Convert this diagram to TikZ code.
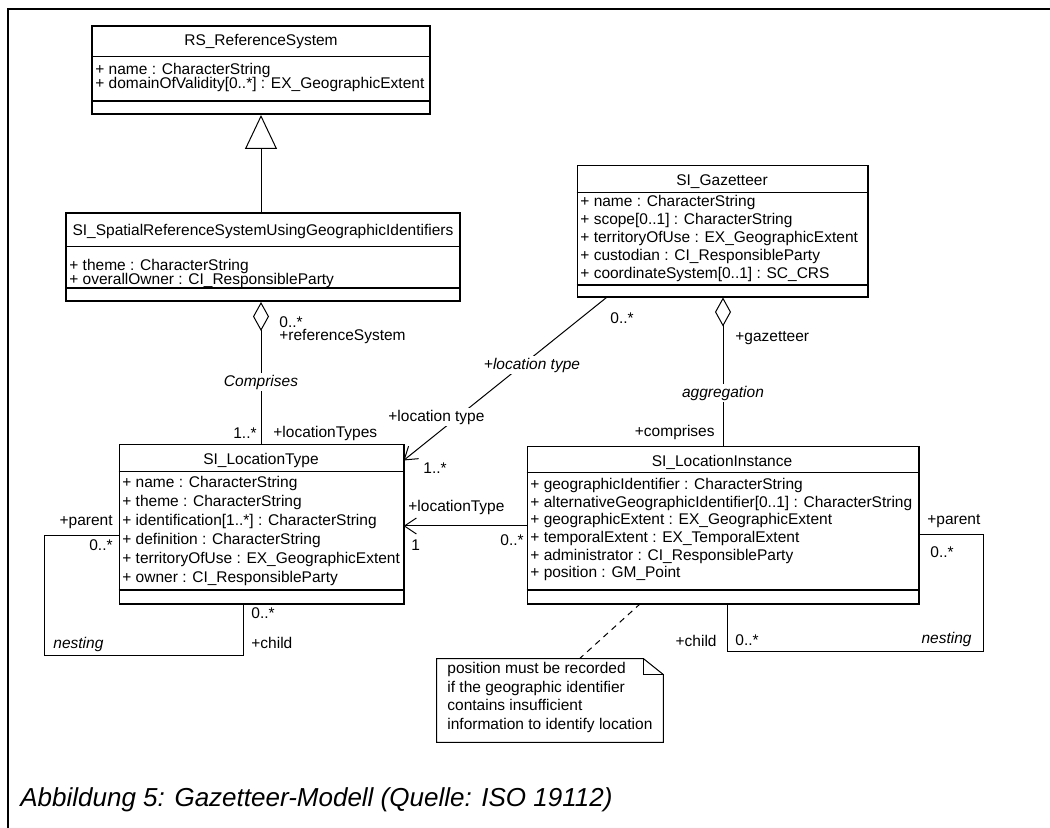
\documentclass[tikz,border=0pt]{standalone}
\usepackage{fontspec}
\setmainfont{Liberation Sans}
\usetikzlibrary{arrows.meta,fit,calc}

\tikzset{
  every node/.style={font=\fontsize{7.75}{9}\selectfont, inner sep=0pt},
  cls/.style={draw, line width=0.5pt, fill=white, inner sep=0pt},
  clsbold/.style={draw, line width=1pt, fill=white, inner sep=0pt},
  edge/.style={line width=1pt},
  title/.style={anchor=center},
  attr/.style={anchor=west},
  thinsep/.style={line width=0.5pt},
  thicksep/.style={line width=1pt},
  conn/.style={line width=0.5pt},
  lbl/.style={inner sep=0pt},
  wlbl/.style={fill=white, inner sep=1pt},
  itl/.style={font=\fontsize{7.75}{9}\selectfont\itshape, inner sep=0pt},
  ilbl/.style={itl, fill=white, inner sep=1pt},
  gen/.style={conn, -{Triangle[open, width=16pt, length=17pt]}},
  agg/.style={conn, {Diamond[open, width=8pt, length=14.5pt]}-},
  nav/.style={conn, -{Straight Barb[length=6pt, width=8pt]}},
  notelink/.style={conn, dash pattern=on 3pt off 2.5pt},
  notebox/.style={inner sep=0pt},
  notetext/.style={anchor=north west, align=left, font=\fontsize{7.75}{9.3}\selectfont},
  frame/.style={line width=1.2pt},
  caption/.style={anchor=west, font=\fontsize{13}{16}\selectfont\itshape},
}

\begin{document}
\begin{tikzpicture}[x=0.5pt, y=-0.5pt]
\useasboundingbox (0,0) rectangle (1050,828);

% page frame
\draw[frame] (1050,9) -- (8,9) -- (8,828);

% ---------- RS_ReferenceSystem ----------
\node[clsbold, fit={(92,26) (430,114)}] (rs) {};
\node[title] (rs-t) at (261,42) {RS\_ReferenceSystem};
\draw[thinsep] (rs.west |- 0,57) -- (rs.east |- 0,57);
\node[attr] (rs-a1) at (95,70) {+ name : CharacterString};
\node[attr] (rs-a2) at (95,84) {+ domainOfValidity[0..*] : EX\_GeographicExtent};
\draw[thicksep] (rs.west |- 0,101) -- (rs.east |- 0,101);

% ---------- SI_SpatialReferenceSystemUsingGeographicIdentifiers ----------
\node[clsbold, fit={(66,213) (460,301)}] (sp) {};
\node[title] (sp-t) at (263,231) {SI\_SpatialReferenceSystemUsingGeographicIdentifiers};
\draw[thinsep] (sp.west |- 0,247) -- (sp.east |- 0,247);
\node[attr] (sp-a1) at (69,266) {+ theme : CharacterString};
\node[attr] (sp-a2) at (69,280) {+ overallOwner : CI\_ResponsibleParty};
\draw[thicksep] (sp.west |- 0,288) -- (sp.east |- 0,288);

% ---------- SI_Gazetteer ----------
\node[cls, fit={(577,166) (867,297)}] (gz) {};
\draw[edge] (gz.north east) -- (gz.south east) -- (gz.south west);
\node[title] (gz-t) at (722,182) {SI\_Gazetteer};
\draw[thinsep] (gz.west |- 0,193) -- (gz.east |- 0,193);
\node[attr] (gz-a1) at (580,202) {+ name : CharacterString};
\node[attr] (gz-a2) at (580,220) {+ scope[0..1] : CharacterString};
\node[attr] (gz-a3) at (580,238) {+ territoryOfUse : EX\_GeographicExtent};
\node[attr] (gz-a4) at (580,256) {+ custodian : CI\_ResponsibleParty};
\node[attr] (gz-a5) at (580,274) {+ coordinateSystem[0..1] : SC\_CRS};
\draw[thicksep] (gz.west |- 0,285) -- (gz.east |- 0,285);

% ---------- SI_LocationType ----------
\node[cls, fit={(119,445) (403,603)}] (lt) {};
\draw[edge] (lt.north east) -- (lt.south east) -- (lt.south west);
\node[title] (lt-t) at (261,460) {SI\_LocationType};
\draw[thinsep] (lt.west |- 0,472) -- (lt.east |- 0,472);
\node[attr] (lt-a1) at (122,483) {+ name : CharacterString};
\node[attr] (lt-a2) at (122,502) {+ theme : CharacterString};
\node[attr] (lt-a3) at (122,521) {+ identification[1..*] : CharacterString};
\node[attr] (lt-a4) at (122,540) {+ definition : CharacterString};
\node[attr] (lt-a5) at (122,559) {+ territoryOfUse : EX\_GeographicExtent};
\node[attr] (lt-a6) at (122,578) {+ owner : CI\_ResponsibleParty};
\draw[thicksep] (lt.west |- 0,590) -- (lt.east |- 0,590);

% ---------- SI_LocationInstance ----------
\node[cls, fit={(527,447) (918,603)}] (li) {};
\draw[edge] (li.north east) -- (li.south east) -- (li.south west);
\node[title] (li-t) at (722,462) {SI\_LocationInstance};
\draw[thinsep] (li.west |- 0,473) -- (li.east |- 0,473);
\node[attr] (li-a1) at (530,485) {+ geographicIdentifier : CharacterString};
\node[attr] (li-a2) at (530,503) {+ alternativeGeographicIdentifier[0..1] : CharacterString};
\node[attr] (li-a3) at (530,520) {+ geographicExtent : EX\_GeographicExtent};
\node[attr] (li-a4) at (530,538) {+ temporalExtent : EX\_TemporalExtent};
\node[attr] (li-a5) at (530,556) {+ administrator : CI\_ResponsibleParty};
\node[attr] (li-a6) at (530,573) {+ position : GM\_Point};
\draw[thicksep] (li.west |- 0,590) -- (li.east |- 0,590);

% ---------- note ----------
\node[notebox, fit={(437,659) (663,742)}] (note) {};
\draw[conn, fill=white] (note.north west) -- ([xshift=-10pt]note.north east)
  -- ([yshift=-8pt]note.north east) -- (note.south east) -- (note.south west) -- cycle;
\draw[conn] ([xshift=-10pt]note.north east) -- ([xshift=-10pt,yshift=-8pt]note.north east)
  -- ([yshift=-8pt]note.north east);
\node[notetext] (note-t) at (447,662) {position must be recorded\\
if the geographic identifier\\
contains insufficient\\
information to identify location};

% ---------- connectors ----------
% generalization
\draw[gen] (sp.north -| rs.south) -- (rs.south);
% aggregation: reference system comprises location types
\draw[agg] (sp.south -| lt.north) -- (lt.north);
% aggregation: gazetteer comprises location instances
\draw[agg] (gz.south -| 723,0) -- (li.north -| 723,0);
% gazetteer -> location type
\draw[nav] ([xshift=15pt]gz.south west) -- ([yshift=-8pt]lt.north east);
% location instance -> location type
\draw[nav] (li.west |- 0,526) -- (lt.east |- 0,526);
% nesting of location types
\draw[conn] (lt.west |- 0,536) -- (44,536) -- (44,655) -- (243,655) -- (lt.south -| 243,0);
% nesting of location instances
\draw[conn] (li.east |- 0,535) -- (983,535) -- (983,651) -- (727,651) -- (li.south -| 727,0);
% note attachment
\draw[notelink] ([xshift=57pt]li.south west) -- ([xshift=71.5pt]note.north west);

% ---------- connector labels ----------
\node[lbl, anchor=west] (m1) at (279,322) {0..*};
\node[lbl, anchor=west] (r1) at (279,337) {+referenceSystem};
\node[ilbl] (c1) at (261,382) {Comprises};
\node[lbl, anchor=east] (m2) at (257,433) {1..*};
\node[lbl, anchor=west] (r2) at (273,433) {+locationTypes};

\node[lbl, anchor=west] (m4) at (610,318) {0..*};
\node[ilbl] (c2) at (532,365) {+location type};
\node[wlbl, anchor=west] (r3) at (386,417) {+location type};
\node[lbl, anchor=west] (m3) at (423,468) {1..*};

\node[lbl, anchor=west] (r4) at (735,338) {+gazetteer};
\node[ilbl] (c3) at (723,393) {aggregation};
\node[lbl, anchor=east] (r5) at (715,432) {+comprises};

\node[lbl, anchor=west] (r6) at (408,507) {+locationType};
\node[lbl, anchor=west] (m5) at (411,545) {1};
\node[lbl, anchor=west] (m6) at (500,540) {0..*};

\node[lbl, anchor=east] (r7) at (113,522) {+parent};
\node[lbl, anchor=east] (m7) at (113,545) {0..*};
\node[itl, anchor=west] (c4) at (53,644) {nesting};
\node[lbl, anchor=west] (m8) at (251,613) {0..*};
\node[lbl, anchor=west] (r8) at (251,643) {+child};

\node[lbl, anchor=west] (r9) at (927,521) {+parent};
\node[lbl, anchor=west] (m9) at (930,552) {0..*};
\node[itl, anchor=east] (c5) at (972,639) {nesting};
\node[lbl, anchor=east] (r10) at (717,641) {+child};
\node[lbl, anchor=west] (m10) at (735,640) {0..*};

% ---------- caption ----------
\node[caption] (cap) at (20,800) {Abbildung 5: Gazetteer-Modell (Quelle: ISO 19112)};
\end{tikzpicture}
\end{document}
